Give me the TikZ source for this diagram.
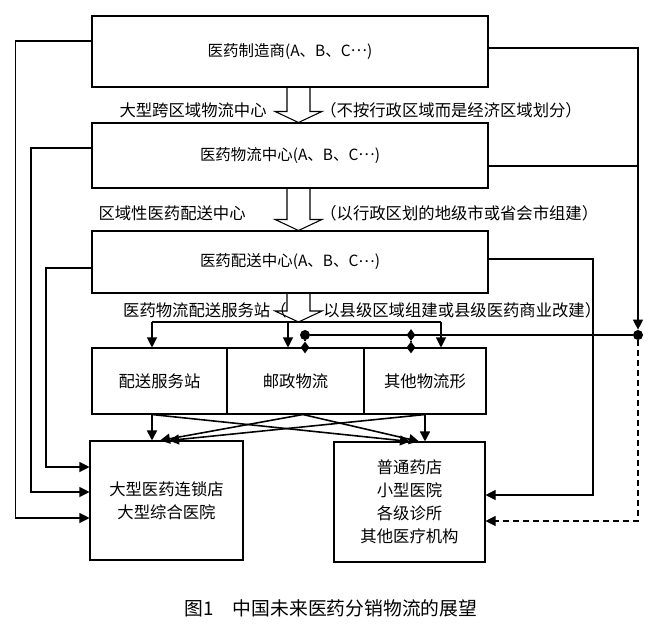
\documentclass[tikz,border=0pt]{standalone}
\usepackage{fontspec}
\setmainfont{Noto Sans CJK SC}
\usetikzlibrary{arrows.meta,shapes.geometric,calc}
\newcommand{\mdots}{\raisebox{0.3em}{…}}

\begin{document}
\begin{tikzpicture}[
    box/.style={draw,line width=0.6pt,minimum width=7.92cm,inner sep=0pt,font=\fontsize{8.8}{10}\selectfont},
    cell/.style={draw,line width=0.6pt,minimum height=1.32cm,inner sep=0pt,font=\fontsize{9.3}{11}\selectfont},
    endbox/.style={draw,line width=0.6pt,align=center,inner sep=0pt,font=\fontsize{9.3}{13}\selectfont},
    lbl/.style={inner sep=0pt,font=\fontsize{9.3}{11}\selectfont},
    ln/.style={line width=0.6pt},
    arr/.style={line width=0.6pt,-{Triangle[length=2mm,width=2mm]}},
    bus/.style={line width=1.6pt},
    dot/.style={circle,fill,inner sep=0pt,minimum size=0.2cm},
    dm/.style={diamond,fill,inner sep=0pt,minimum width=0.18cm,minimum height=0.24cm}
]
\useasboundingbox (0,0) rectangle (13.10,-12.72);
\node[box,minimum height=1.42cm] (mfr) at (5.80,-1.03) {医药制造商(A、B、C\mdots)};
\node[box,minimum height=1.30cm] (lgc) at (5.80,-3.11) {医药物流中心(A、B、C\mdots)};
\node[box,minimum height=1.24cm] (dst) at (5.80,-5.24) {医药配送中心(A、B、C\mdots)};
\node[cell,minimum width=2.70cm] (stn) at (3.19,-7.62) {配送服务站};
\node[cell,minimum width=2.74cm] (post) at (5.91,-7.62) {邮政物流};
\node[cell,minimum width=2.44cm] (oth) at (8.50,-7.62) {其他物流形};
\node[endbox,minimum width=3.06cm,minimum height=2.38cm] (big) at (3.33,-10.01) {大型医药连锁店\\大型综合医院};
\node[endbox,minimum width=3.02cm,minimum height=2.40cm] (small) at (8.19,-10.04) {普通药店\\小型医院\\各级诊所\\其他医疗机构};
\node[font=\fontsize{10.7}{12}\selectfont] (cap) at (6.62,-12.16) {图1\quad 中国未来医药分销物流的展望};

\node[lbl,anchor=east] (la) at (5.34,-2.20) {大型跨区域物流中心};
\node[lbl,anchor=west] (ra) at (6.40,-2.20) {（不按行政区域而是经济区域划分）};
\node[lbl,anchor=east] (lb) at (4.92,-4.26) {区域性医药配送中心};
\node[lbl,anchor=west] (rb) at (6.40,-4.26) {（以行政区划的地级市或省会市组建）};
\node[lbl,anchor=east] (lc) at (5.74,-6.20) {医药物流配送服务站（};
\node[lbl,anchor=west] (rc) at (6.46,-6.20) {以县级区域组建或县级医药商业改建）};

\coordinate (ha) at (5.74,0);
\coordinate (hb) at (6.20,0);
\coordinate (hl) at (5.50,0);
\coordinate (hr) at (6.44,0);
\coordinate (hm) at (5.97,0);
\coordinate (hub) at (5.97,-6.44);
\foreach \a/\b in {mfr/lgc.north,lgc/dst.north,dst/hub}
    \draw[ln] (ha|-\a.south) -- ($(ha|-\b)+(0,0.22)$) -- ($(hl|-\b)+(0,0.22)$) -- (hm|-\b)
        -- ($(hr|-\b)+(0,0.22)$) -- ($(hb|-\b)+(0,0.22)$) -- (hb|-\a.south);

\coordinate (fa) at (3.04,-6.44);
\coordinate (fb) at (5.76,-6.44);
\coordinate (fc) at (8.82,-6.44);
\draw[ln] (fa) -- (fc);
\foreach \c in {fa,fb,fc}
    \draw[arr] (\c) -- (\c|-stn.north);

\node[dot] (jl) at (6.10,-6.70) {};
\node[dot] (jr) at (12.76,-6.70) {};
\node[dm] (d1) at (8.22,-6.70) {};
\node[dm] (d2) at (jl|-post.north) {};
\node[dm] (d3) at (d1|-oth.north) {};
\draw[bus] (jl) -- (jr);
\draw[bus] (jl) -- (d2);
\draw[bus] (d1) -- (d3);

\draw[arr] ([yshift=0.07cm]mfr.east) -| (jr.north);
\coordinate (r2) at ([yshift=-0.21cm]lgc.east);
\draw[ln] (r2) -- (r2-|jr);
\coordinate (r3) at (11.86,-9.90);
\draw[arr] ([yshift=0.06cm]dst.east) -| (r3) -- (r3-|small.east);
\coordinate (r4) at (12.76,-10.42);
\draw[arr,dash pattern=on 1.1mm off 0.9mm] (jr) -- (r4) -- (r4-|small.east);

\coordinate (l1) at (0.31,-10.36);
\coordinate (l2) at (0.62,-9.84);
\coordinate (l3) at (0.92,-9.34);
\draw[arr] ([yshift=0.21cm]mfr.west) -| (l1) -- (l1-|big.west);
\draw[arr] ([yshift=0.15cm]lgc.west) -| (l2) -- (l2-|big.west);
\draw[arr] ([yshift=-0.12cm]dst.west) -| (l3) -- (l3-|big.west);

\foreach \a/\da/\b/\db in {stn/-0.15/big/-0.29,stn/-0.15/small/0.01,post/0.15/big/-0.13,
        post/0.15/small/0.19,oth/0/big/0.05,oth/0/small/0.31}
    \draw[arr,line width=0.9pt] ([xshift=\da cm]\a.south) -- ([xshift=\db cm]\b.north);
\end{tikzpicture}
\end{document}
